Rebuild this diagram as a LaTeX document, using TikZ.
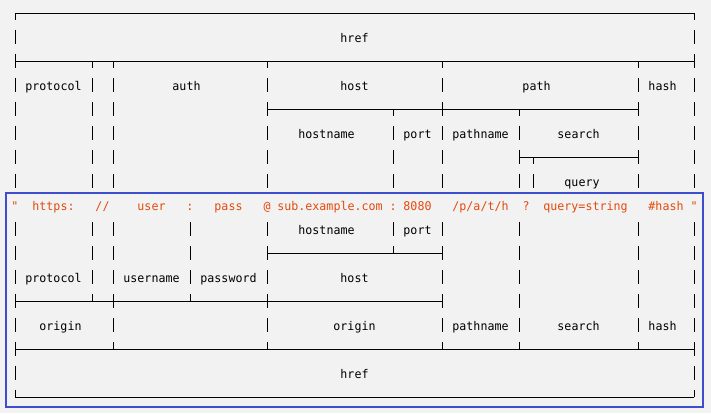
\documentclass[tikz,border=0pt]{standalone}
\usepackage{fontspec}
\newfontfamily\monofnt[FakeStretch=0.97]{DejaVu Sans Mono}
\definecolor{bgc}{HTML}{F2F2F2}
\definecolor{urlorange}{RGB}{228,74,12}
\definecolor{frameblue}{RGB}{62,76,206}
\newcommand\segH[3]{\draw[ln] ({15+7*#2},{13+24*#1}) -- ({15+7*#3},{13+24*#1});}
\newcommand\segV[2]{\draw[ln] ({15+7*#2},{6+24*#1}) -- ({15+7*#2},{20+24*#1});}
\newcommand\segU[2]{\draw[ln] ({15+7*#2},{6+24*#1}) -- ({15+7*#2},{13+24*#1});}
\newcommand\segD[2]{\draw[ln] ({15+7*#2},{13+24*#1}) -- ({15+7*#2},{20+24*#1});}
\newcommand\lab[5]{\node[#4] (#1) at ({15+7*#2},{18+24*#3}) {#5};}
\begin{document}
\begin{tikzpicture}[x=1pt,y=-1pt,
  ln/.style={line width=1pt,black},
  lbl/.style={font=\monofnt\fontsize{12}{14}\selectfont,inner sep=0pt,anchor=base,text=black},
  str/.style={lbl,text=urlorange}]
\fill[bgc] (0,0) rectangle (711,413);
\useasboundingbox (0,0) rectangle (711,413);
% row 0
\segH{0}{0}{97}
\foreach \c in {0,97} {\segD{0}{\c}}
% row 1
\foreach \c in {0,97} {\segV{1}{\c}}
% row 2
\segH{2}{0}{97}
\foreach \c in {0,97} {\segU{2}{\c}}
\foreach \c in {0,11,14,36,61,89,97} {\segD{2}{\c}}
% row 3
\foreach \c in {0,11,14,36,61,89,97} {\segV{3}{\c}}
% row 4
\segH{4}{36}{89}
\foreach \c in {0,11,14,97} {\segV{4}{\c}}
\foreach \c in {36,61,89} {\segU{4}{\c}}
\foreach \c in {36,54,61,72,89} {\segD{4}{\c}}
% row 5
\foreach \c in {0,11,14,36,54,61,72,89,97} {\segV{5}{\c}}
% row 6
\segH{6}{72}{89}
\foreach \c in {0,11,14,36,54,61,97} {\segV{6}{\c}}
\foreach \c in {72,89} {\segU{6}{\c}}
\foreach \c in {72,74,89} {\segD{6}{\c}}
% row 7
\foreach \c in {0,11,14,36,54,61,72,74,89,97} {\segV{7}{\c}}
% row 9
\foreach \c in {0,11,14,25,36,54,61,72,89,97} {\segV{9}{\c}}
% row 10
\segH{10}{36}{61}
\foreach \c in {0,11,14,25,72,89,97} {\segV{10}{\c}}
\foreach \c in {36,54,61} {\segU{10}{\c}}
\foreach \c in {36,61} {\segD{10}{\c}}
% row 11
\foreach \c in {0,11,14,25,36,61,72,89,97} {\segV{11}{\c}}
% row 12
\segH{12}{0}{61}
\foreach \c in {72,89,97} {\segV{12}{\c}}
\foreach \c in {0,11,14,25,36,61} {\segU{12}{\c}}
\foreach \c in {0,14,36,61} {\segD{12}{\c}}
% row 13
\foreach \c in {0,14,36,61,72,89,97} {\segV{13}{\c}}
% row 14
\segH{14}{0}{97}
\foreach \c in {0,14,36,61,72,89,97} {\segU{14}{\c}}
\foreach \c in {0,97} {\segD{14}{\c}}
% row 15
\foreach \c in {0,97} {\segV{15}{\c}}
% row 16
\segH{16}{0}{97}
\foreach \c in {0,97} {\segU{16}{\c}}
% labels
\lab{hrefT}{48.5}{1}{lbl}{href}
\lab{protocolT}{5.5}{3}{lbl}{protocol}
\lab{authT}{24.5}{3}{lbl}{auth}
\lab{hostT}{48.5}{3}{lbl}{host}
\lab{pathT}{74.5}{3}{lbl}{path}
\lab{hashT}{92.5}{3}{lbl}{hash}
\lab{hostnameT}{44.5}{5}{lbl}{hostname}
\lab{portT}{57.5}{5}{lbl}{port}
\lab{pathnameT}{66.5}{5}{lbl}{pathname}
\lab{searchT}{80.5}{5}{lbl}{search}
\lab{queryT}{81}{7}{lbl}{query}
% url string
\lab{qL}{0}{8}{str}{"}
\lab{sProt}{5.5}{8}{str}{https:}
\lab{sSlash}{12.5}{8}{str}{//}
\lab{sUser}{19.5}{8}{str}{user}
\lab{sColA}{25}{8}{str}{:}
\lab{sPass}{30.5}{8}{str}{pass}
\lab{sAt}{36}{8}{str}{@}
\lab{sHost}{45}{8}{str}{sub.example.com}
\lab{sColB}{54}{8}{str}{:}
\lab{sPort}{57.5}{8}{str}{8080}
\lab{sPath}{66.5}{8}{str}{/p/a/t/h}
\lab{sQm}{73}{8}{str}{?}
\lab{sQuery}{81.5}{8}{str}{query=string}
\lab{sHash}{93}{8}{str}{\#hash}
\lab{qR}{97}{8}{str}{"}
% lower labels
\lab{hostnameB}{44.5}{9}{lbl}{hostname}
\lab{portB}{57.5}{9}{lbl}{port}
\lab{protocolB}{5.5}{11}{lbl}{protocol}
\lab{usernameB}{19.5}{11}{lbl}{username}
\lab{passwordB}{30.5}{11}{lbl}{password}
\lab{hostB}{48.5}{11}{lbl}{host}
\lab{originA}{6.5}{13}{lbl}{origin}
\lab{originB}{48.5}{13}{lbl}{origin}
\lab{pathnameB}{66.5}{13}{lbl}{pathname}
\lab{searchB}{80.5}{13}{lbl}{search}
\lab{hashB}{92.5}{13}{lbl}{hash}
\lab{hrefB}{48.5}{15}{lbl}{href}
% frame
\draw[frameblue,line width=2.2pt] (6,192.7) rectangle (702.7,406.7);
\end{tikzpicture}
\end{document}
